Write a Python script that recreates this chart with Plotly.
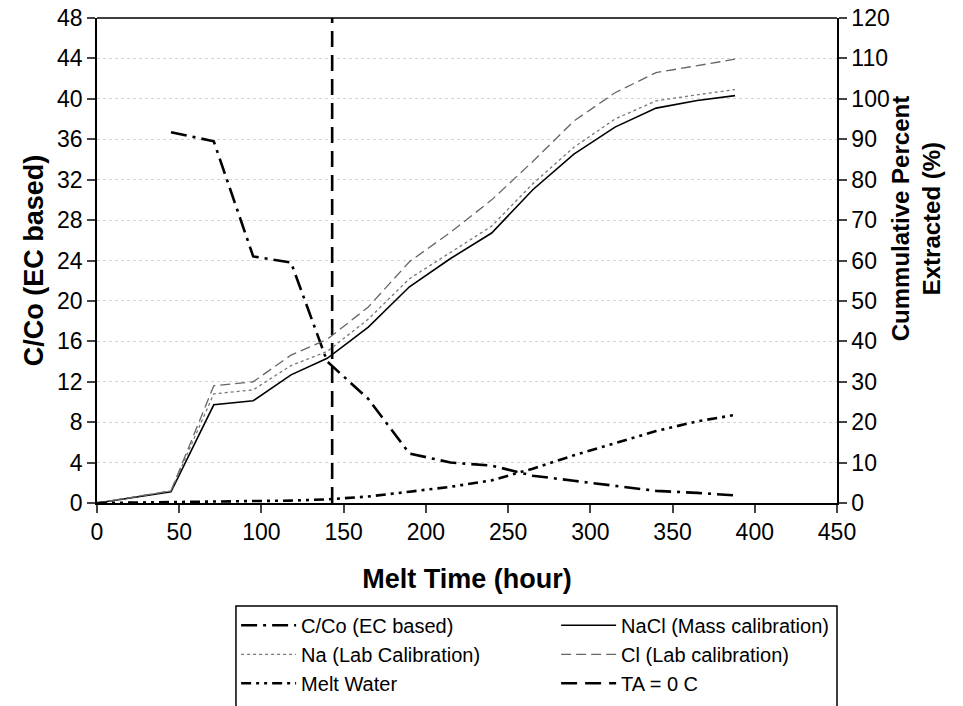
import plotly.graph_objects as go

# ---- data ----
hours = [0, 45, 71, 95, 118, 140, 165, 190, 215, 240, 265, 290, 315, 340, 365, 388]

cco_hours = [45, 71, 95, 118, 140, 165, 190, 215, 240, 265, 290, 315, 340, 365, 388]
cco_values = [36.7, 35.8, 24.4, 23.8, 14.0, 10.3, 4.9, 4.0, 3.7, 2.7, 2.2, 1.7, 1.2, 1.0, 0.75]

nacl_mass = [0, 2.75, 24.3, 25.3, 31.7, 35.8, 43.5, 53.5, 60.5, 66.8, 77.5, 86.3, 93.0, 97.7, 99.6, 100.8]
na_lab = [0, 3.0, 27.0, 28.0, 34.0, 37.5, 45.5, 55.5, 62.0, 68.5, 79.0, 88.0, 95.0, 99.5, 101.0, 102.3]
cl_lab = [0, 3.0, 29.0, 30.0, 36.6, 40.5, 48.5, 59.7, 67.0, 75.0, 84.5, 94.5, 101.5, 106.5, 108.2, 109.8]
melt_water = [0, 0.2, 0.3, 0.4, 0.6, 0.9, 1.6, 2.8, 4.0, 5.6, 8.5, 11.8, 14.8, 17.8, 20.2, 21.8]

ta_zero_hour = [143, 143]
ta_zero_y = [0, 48]

x_ticks = [0, 50, 100, 150, 200, 250, 300, 350, 400, 450]
left_ticks = list(range(0, 49, 4))
right_ticks = list(range(0, 121, 10))

FONT = "Liberation Sans, Arial, sans-serif"

fig = go.Figure()
fig.add_trace(go.Scatter(x=cco_hours, y=cco_values, mode="lines", name="C/Co (EC based)",
                         line=dict(color="black", width=2.6, dash="16px,6px,3px,6px")))
fig.add_trace(go.Scatter(x=hours, y=nacl_mass, mode="lines", name="NaCl (Mass calibration)", yaxis="y2",
                         line=dict(color="black", width=1.6)))
fig.add_trace(go.Scatter(x=hours, y=na_lab, mode="lines", name="Na (Lab Calibration)", yaxis="y2",
                         line=dict(color="#777777", width=1.3, dash="dot")))
fig.add_trace(go.Scatter(x=hours, y=cl_lab, mode="lines", name="Cl (Lab calibration)", yaxis="y2",
                         line=dict(color="#666666", width=1.3, dash="10px,5px")))
fig.add_trace(go.Scatter(x=hours, y=melt_water, mode="lines", name="Melt Water", yaxis="y2",
                         line=dict(color="black", width=2.6, dash="10px,5px,3px,5px,3px,5px")))
fig.add_trace(go.Scatter(x=ta_zero_hour, y=ta_zero_y, mode="lines", name="TA = 0 C",
                         line=dict(color="black", width=2.6, dash="16px,8px")))

fig.update_layout(
    width=963, height=706,
    margin=dict(l=97, r=126, t=18, b=203, autoexpand=False),
    paper_bgcolor="white", plot_bgcolor="white",
    font=dict(family=FONT, size=20, color="black"),
    xaxis=dict(range=[0, 450], tickvals=x_ticks, ticks="outside", ticklen=8, tickwidth=1.5,
               showline=True, linecolor="black", linewidth=1.5, mirror=False, showgrid=False,
               zeroline=False, tickfont=dict(size=23),
               title=dict(text="<b>Melt Time (hour)</b>", font=dict(size=27), standoff=25)),
    yaxis=dict(range=[0, 48], tickvals=left_ticks, ticks="outside", ticklen=8, tickwidth=1.5,
               showline=True, linecolor="black", linewidth=1.5, mirror=False,
               showgrid=True, gridcolor="#d4d4d4", griddash="dot", gridwidth=1, zeroline=False,
               tickfont=dict(size=23),
               title=dict(text="<b>C/Co (EC based)</b>", font=dict(size=27), standoff=6)),
    yaxis2=dict(range=[0, 120], tickvals=right_ticks, overlaying="y", side="right",
                ticks="outside", ticklen=8, tickwidth=1.5, showline=True, linecolor="black",
                linewidth=1.5, showgrid=False, zeroline=False, tickfont=dict(size=23)),
    legend=dict(orientation="h", x=0.188, xanchor="left", y=-0.212, yanchor="top",
                entrywidth=250, entrywidthmode="pixels", borderwidth=0,
                bgcolor="rgba(0,0,0,0)",
                font=dict(size=20), traceorder="normal", tracegroupgap=0, itemwidth=55),
    showlegend=True,
)
# right axis title as annotation (sits above the axis centre, as in the original)
fig.add_annotation(xref="paper", yref="paper", x=1.0, y=0.585, xanchor="left", yanchor="middle",
                   xshift=48, text="<b>Cummulative Percent<br>Extracted (%)</b>", textangle=-90,
                   showarrow=False, font=dict(size=24))
# top frame line
fig.add_shape(type="line", xref="paper", yref="paper", x0=0, x1=1, y0=1, y1=1,
              line=dict(color="black", width=1.5))
# legend frame
fig.add_shape(type="rect", xref="paper", yref="paper", x0=0.1878, x1=1.0, y0=-0.43, y1=-0.2124,
              line=dict(color="black", width=1.5), fillcolor="rgba(0,0,0,0)", layer="below")

fig.write_html("out.html")
